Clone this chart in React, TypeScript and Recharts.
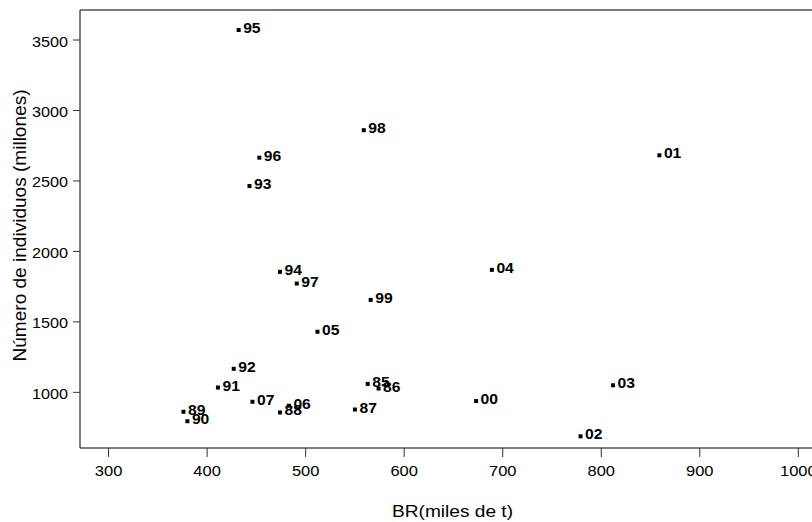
import React from 'react';
import { ScatterChart, Scatter, XAxis, YAxis } from 'recharts';

const years = ['85', '86', '87', '88', '89', '90', '91', '92', '93', '94', '95', '96', '97', '98', '99', '00', '01', '02', '03', '04', '05', '06', '07'];
const brValues = [563, 574, 550, 474, 376, 380, 411, 427, 443, 474, 432, 453, 491, 559, 566, 673, 859, 779, 812, 689, 512, 483, 446];
const individuos = [1060, 1027, 878, 857, 862, 795, 1034, 1167, 2464, 1855, 3571, 2665, 1772, 2860, 1656, 938, 2682, 688, 1050, 1869, 1430, 905, 933];
const xTicks = [300, 400, 500, 600, 700, 800, 900, 1000];
const yTicks = [1000, 1500, 2000, 2500, 3000, 3500];

const data = years.map((label, i) => ({ label, x: brValues[i], y: individuos[i] }));

const FONT = '"Liberation Sans", Arial, Helvetica, sans-serif';

const XTick = (props: any) => {
  const { x, y, payload } = props;
  return (
    <g transform={`translate(${x},${y})`}>
      <text transform="scale(1.1,1)" textAnchor="middle" dy={10.65} fontSize={15} fontFamily={FONT} fill="#000">
        {payload.value}
      </text>
    </g>
  );
};

const YTick = (props: any) => {
  const { x, y, payload } = props;
  return (
    <g transform={`translate(${x},${y})`}>
      <text transform="scale(1.08,1)" textAnchor="end" dy={6.5} fontSize={15} fontFamily={FONT} fill="#000">
        {payload.value}
      </text>
    </g>
  );
};

const PointShape = (props: any) => {
  const { cx, cy, payload } = props;
  if (cx == null || cy == null) return null;
  return (
    <g>
      <rect x={cx - 2} y={cy - 2} width={4} height={4} fill="#000" />
      <g transform={`translate(${cx + 4.5},${cy + 3})`}>
        <text transform="scale(1.12,1)" fontSize={14} fontWeight="bold" fontFamily={FONT} fill="#000">
          {payload.label}
        </text>
      </g>
    </g>
  );
};

export default function App() {
  return (
    <div style={{ position: 'fixed', left: 0, top: 0, width: 812, height: 522, overflow: 'hidden', background: '#fff' }}>
      <ScatterChart width={830} height={522} margin={{ top: 5, right: 10, bottom: 14, left: 10 }}>
        <XAxis
          xAxisId="top"
          orientation="top"
          type="number"
          dataKey="x"
          domain={[271, 1022]}
          allowDataOverflow
          height={5}
          tick={false}
          tickLine={false}
          axisLine={{ stroke: '#000', strokeWidth: 1 }}
        />
        <XAxis
          type="number"
          dataKey="x"
          domain={[271, 1022]}
          allowDataOverflow
          ticks={xTicks}
          height={60}
          tickSize={9}
          tickMargin={8}
          tick={<XTick />}
          axisLine={{ stroke: '#000', strokeWidth: 1 }}
          tickLine={{ stroke: '#333', strokeWidth: 1 }}
          label={{
            content: () => (
              <text x={452.5} y={516.5} textAnchor="middle" fontSize={17} fontFamily={FONT} fill="#000" textLength={121} lengthAdjust="spacingAndGlyphs">
                BR(miles de t)
              </text>
            ),
          }}
        />
        <YAxis
          type="number"
          dataKey="y"
          domain={[605, 3713]}
          allowDataOverflow
          ticks={yTicks}
          width={70}
          tickSize={7}
          tickMargin={5}
          tick={<YTick />}
          axisLine={{ stroke: '#000', strokeWidth: 1 }}
          tickLine={{ stroke: '#333', strokeWidth: 1 }}
          label={{
            content: () => (
              <text x={25.5} y={225.5} transform="rotate(-90, 25.5, 225.5)" textAnchor="middle" fontSize={18} fontFamily={FONT} fill="#000" textLength={272} lengthAdjust="spacingAndGlyphs">
                Número de individuos (millones)
              </text>
            ),
          }}
        />
        <Scatter data={data} fill="#000" shape={<PointShape />} isAnimationActive={false} />
      </ScatterChart>
    </div>
  );
}
